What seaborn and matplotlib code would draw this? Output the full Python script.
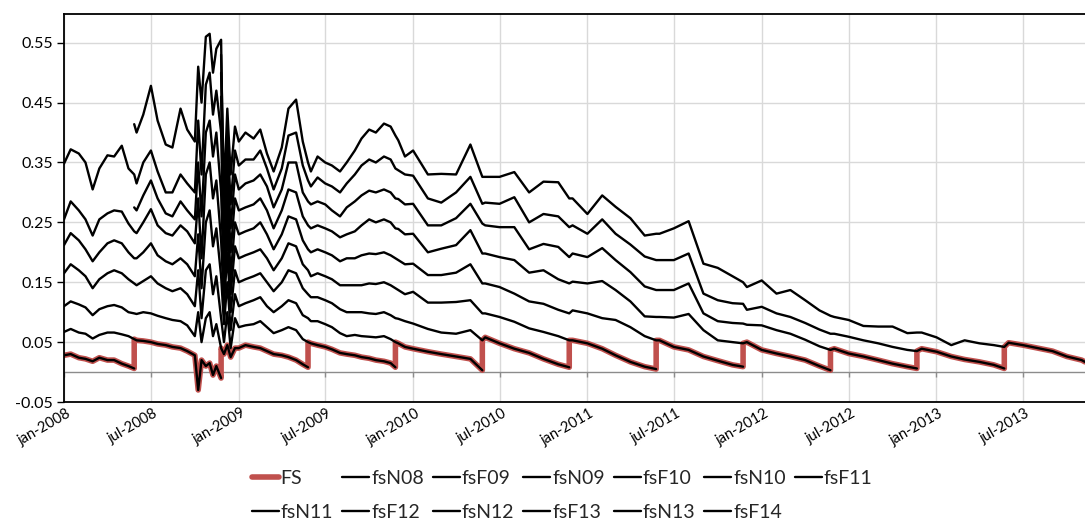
import pandas as pd
import numpy as np
import matplotlib
matplotlib.use("Agg")
import matplotlib.pyplot as plt
import matplotlib.dates as mdates
import matplotlib.transforms as mtransforms
from matplotlib.ticker import FuncFormatter
import seaborn as sns

# ---------------- data ----------------
contracts = ["fsN08", "fsF09", "fsN09", "fsF10", "fsN10", "fsF11",
             "fsN11", "fsF12", "fsN12", "fsF13", "fsN13", "fsF14"]
starts = ["2008-01-01", "2008-01-01", "2008-01-01", "2008-01-01", "2008-01-01", "2008-01-01",
          "2008-05-27", "2008-01-01", "2008-05-27", "2008-11-25", "2008-11-25", "2008-11-25"]
expiries = ["2008-05-27", "2008-11-25", "2009-05-26", "2009-11-25", "2010-05-26", "2010-11-24",
            "2011-05-25", "2011-11-23", "2012-05-24", "2012-11-21", "2013-05-23", "2013-11-08"]
extra_dates = ["2008-10-08", "2008-10-24", "2008-11-08", "2008-12-08", "2008-12-24"]

fsN08 = [0.028, 0.030, 0.024, 0.022, 0.018, 0.024, 0.020, 0.020, 0.014, 0.010, 0.006]
fsF09 = [0.067, 0.072, 0.066, 0.064, 0.056, 0.062, 0.066, 0.066, 0.063, 0.060, 0.055,
         0.053, 0.052, 0.050, 0.047, 0.045, 0.042, 0.040, 0.035, 0.028,
         -0.030, 0.020, 0.010, 0.015, -0.005, 0.010, -0.010]
fsN09 = [0.110, 0.118, 0.113, 0.108, 0.095, 0.105, 0.110, 0.112, 0.108, 0.100, 0.098,
         0.097, 0.100, 0.098, 0.094, 0.090, 0.087, 0.085, 0.078, 0.060,
         0.100, 0.050, 0.090, 0.100, 0.060, 0.080, 0.040,
         0.030, 0.045, 0.025, 0.040,
         0.040, 0.045, 0.042, 0.040, 0.035, 0.030, 0.028, 0.025, 0.020, 0.013, 0.008]
fsF10 = [0.165, 0.180, 0.170, 0.160, 0.140, 0.155, 0.165, 0.170, 0.165, 0.155, 0.148,
         0.145, 0.152, 0.160, 0.148, 0.140, 0.135, 0.140, 0.130, 0.110,
         0.170, 0.090, 0.170, 0.180, 0.130, 0.160, 0.090,
         0.050, 0.100, 0.040, 0.090,
         0.075, 0.078, 0.080, 0.085, 0.075, 0.065, 0.070, 0.075, 0.070, 0.055, 0.050,
         0.048, 0.045, 0.042, 0.038, 0.032, 0.030, 0.028, 0.025, 0.023, 0.020, 0.018, 0.015, 0.008]
fsN10 = [0.212, 0.232, 0.220, 0.205, 0.185, 0.200, 0.215, 0.220, 0.215, 0.200, 0.190,
         0.190, 0.200, 0.215, 0.195, 0.185, 0.180, 0.190, 0.180, 0.160,
         0.230, 0.140, 0.250, 0.270, 0.210, 0.240, 0.160,
         0.080, 0.150, 0.070, 0.130,
         0.110, 0.115, 0.120, 0.125, 0.110, 0.100, 0.110, 0.120, 0.115, 0.095, 0.090,
         0.085, 0.085, 0.080, 0.075, 0.065, 0.060, 0.062, 0.060, 0.059, 0.058, 0.060, 0.055, 0.050,
         0.048, 0.042,
         0.039, 0.034, 0.030, 0.026, 0.022, 0.003]
fsF11 = [0.255, 0.285, 0.270, 0.255, 0.228, 0.255, 0.265, 0.270, 0.268, 0.248, 0.235,
         0.232, 0.250, 0.272, 0.245, 0.232, 0.228, 0.245, 0.235, 0.215,
         0.290, 0.190, 0.330, 0.350, 0.290, 0.320, 0.220,
         0.110, 0.200, 0.100, 0.170,
         0.150, 0.155, 0.160, 0.165, 0.150, 0.135, 0.150, 0.170, 0.165, 0.140, 0.130,
         0.125, 0.125, 0.120, 0.115, 0.105, 0.100, 0.100, 0.100, 0.098, 0.097, 0.100, 0.095, 0.090,
         0.089, 0.085,
         0.081, 0.072, 0.066, 0.064, 0.070, 0.053, 0.058, 0.048, 0.039, 0.032, 0.022, 0.013, 0.008]
fsN11 = [0.275,
         0.270, 0.295, 0.320, 0.290, 0.265, 0.260, 0.285, 0.270, 0.255,
         0.350, 0.260, 0.400, 0.420, 0.360, 0.400, 0.300,
         0.140, 0.240, 0.130, 0.210,
         0.190, 0.195, 0.200, 0.205, 0.190, 0.170, 0.190, 0.215, 0.210, 0.180, 0.170,
         0.160, 0.165, 0.160, 0.155, 0.145, 0.145, 0.145, 0.145, 0.148, 0.147, 0.150, 0.145, 0.140,
         0.137, 0.130,
         0.134, 0.116, 0.116, 0.117, 0.120, 0.098, 0.098, 0.092, 0.084, 0.073, 0.067, 0.060, 0.053, 0.053,
         0.048, 0.039, 0.028, 0.017, 0.009, 0.005]
fsF12 = [0.348, 0.372, 0.365, 0.350, 0.305, 0.340, 0.362, 0.360, 0.378, 0.340, 0.330,
         0.315, 0.350, 0.370, 0.335, 0.300, 0.300, 0.330, 0.315, 0.300,
         0.420, 0.330, 0.480, 0.500, 0.430, 0.470, 0.400,
         0.170, 0.280, 0.160, 0.250,
         0.230, 0.235, 0.240, 0.250, 0.230, 0.205, 0.230, 0.260, 0.255, 0.220, 0.205,
         0.200, 0.205, 0.200, 0.195, 0.185, 0.190, 0.190, 0.195, 0.198, 0.197, 0.200, 0.195, 0.190,
         0.187, 0.180,
         0.181, 0.162, 0.162, 0.166, 0.180, 0.148, 0.148, 0.142, 0.131, 0.118, 0.114, 0.104, 0.098, 0.103,
         0.098, 0.090, 0.087, 0.075, 0.060, 0.053, 0.053, 0.042, 0.037, 0.026, 0.019, 0.012, 0.009]
fsN12 = [0.414,
         0.400, 0.430, 0.478, 0.420, 0.380, 0.375, 0.440, 0.405, 0.385,
         0.510, 0.450, 0.560, 0.565, 0.500, 0.540, 0.555,
         0.200, 0.320, 0.200, 0.290,
         0.270, 0.275, 0.280, 0.290, 0.270, 0.240, 0.270, 0.305, 0.300, 0.260, 0.245,
         0.240, 0.245, 0.240, 0.235, 0.225, 0.230, 0.235, 0.245, 0.255, 0.250, 0.255, 0.250, 0.240,
         0.239, 0.230,
         0.231, 0.200, 0.206, 0.212, 0.237, 0.198, 0.198, 0.192, 0.187, 0.166, 0.170, 0.155, 0.148, 0.151,
         0.148, 0.152, 0.137, 0.118, 0.093, 0.092, 0.092, 0.091, 0.097, 0.070, 0.053, 0.050, 0.048, 0.050,
         0.037, 0.031, 0.026, 0.020, 0.010, 0.003]
fsF13 = [0.460, 0.230, 0.360, 0.240, 0.330,
         0.305, 0.315, 0.320, 0.330, 0.310, 0.275, 0.305, 0.350, 0.350, 0.300, 0.285,
         0.280, 0.285, 0.280, 0.270, 0.260, 0.275, 0.285, 0.295, 0.303, 0.300, 0.305, 0.300, 0.290,
         0.289, 0.280,
         0.281, 0.245, 0.245, 0.257, 0.281, 0.248, 0.245, 0.242, 0.242, 0.205, 0.214, 0.209, 0.192, 0.198,
         0.192, 0.207, 0.187, 0.167, 0.143, 0.137, 0.137, 0.137, 0.148, 0.098, 0.085, 0.082, 0.081, 0.079,
         0.078, 0.070, 0.064, 0.054, 0.043, 0.037, 0.039, 0.031, 0.026, 0.020, 0.014, 0.009, 0.006]
fsN13 = [0.500, 0.260, 0.400, 0.280, 0.370,
         0.345, 0.355, 0.355, 0.370, 0.340, 0.305, 0.340, 0.395, 0.400, 0.345, 0.320,
         0.310, 0.325, 0.315, 0.310, 0.300, 0.315, 0.330, 0.345, 0.355, 0.350, 0.360, 0.355, 0.340,
         0.337, 0.330,
         0.328, 0.290, 0.283, 0.300, 0.326, 0.281, 0.283, 0.281, 0.292, 0.250, 0.264, 0.260, 0.242, 0.245,
         0.231, 0.255, 0.231, 0.213, 0.193, 0.187, 0.187, 0.187, 0.198, 0.131, 0.120, 0.115, 0.114, 0.104,
         0.109, 0.098, 0.092, 0.082, 0.071, 0.064, 0.064, 0.059, 0.053, 0.048, 0.042, 0.037, 0.035, 0.039,
         0.034, 0.026, 0.021, 0.017, 0.012, 0.006]
fsF14 = [0.530, 0.300, 0.440, 0.330, 0.410,
         0.385, 0.400, 0.390, 0.405, 0.365, 0.335, 0.375, 0.440, 0.455, 0.385, 0.350,
         0.335, 0.360, 0.350, 0.345, 0.335, 0.350, 0.370, 0.390, 0.405, 0.400, 0.415, 0.410, 0.395,
         0.387, 0.360,
         0.370, 0.330, 0.331, 0.330, 0.380, 0.326, 0.326, 0.326, 0.334, 0.300, 0.318, 0.317, 0.290, 0.290,
         0.264, 0.295, 0.276, 0.257, 0.228, 0.231, 0.231, 0.240, 0.252, 0.181, 0.174, 0.160, 0.150, 0.142,
         0.153, 0.131, 0.137, 0.120, 0.103, 0.094, 0.092, 0.087, 0.077, 0.076, 0.076, 0.065, 0.066, 0.066,
         0.058, 0.045, 0.053, 0.048, 0.045, 0.042, 0.049, 0.045, 0.040, 0.035, 0.026, 0.020, 0.017]
series_values = [fsN08, fsF09, fsN09, fsF10, fsN10, fsF11,
                 fsN11, fsF12, fsN12, fsF13, fsN13, fsF14]

month_names = {1: "jan", 7: "jul"}
y_ticks = [-0.05, 0.05, 0.15, 0.25, 0.35, 0.45, 0.55]
x_start, x_end = "2008-01-01", "2013-11-08"

# ---------------- sampling grid of the readings ----------------
grid = set(pd.date_range("2008-01-01", "2009-12-16", freq="SMS"))
grid |= set(pd.date_range("2010-01-01", "2013-11-01", freq="MS"))
grid |= set(pd.to_datetime(extra_dates)) | set(pd.to_datetime(expiries))
grid = sorted(grid)

series_dates = {}
for name, s, e, vals in zip(contracts, starts, expiries, series_values):
    s, e = pd.Timestamp(s), pd.Timestamp(e)
    d = [g for g in grid if s <= g <= e]
    if len(d) != len(vals):
        raise ValueError(f"{name}: {len(d)} dates vs {len(vals)} values")
    series_dates[name] = d

# front spread: nearest contract until its expiry
fs_dates, fs_vals = [], []
prev = pd.Timestamp(starts[0])
for name, e, vals in zip(contracts, expiries, series_values):
    e = pd.Timestamp(e)
    for d, v in zip(series_dates[name], vals):
        if prev <= d <= e:
            fs_dates.append(d)
            fs_vals.append(v)
    prev = e

# ---------------- plot ----------------
sns.set_theme(style="white")
plt.rcParams["font.family"] = ["Lato", "DejaVu Sans"]

W, H = 1085, 521
fig = plt.figure(figsize=(W / 100, H / 100), dpi=100)
ax = fig.add_axes([64 / W, (H - 402) / H, (W - 64) / W, 388 / H])

sns.lineplot(x=fs_dates, y=fs_vals, ax=ax, color="#C0504D", linewidth=4.0,
             estimator=None, sort=False, label="FS", zorder=2)
for name, vals in zip(contracts, series_values):
    sns.lineplot(x=series_dates[name], y=vals, ax=ax, color="black", linewidth=1.7,
                 estimator=None, sort=False, label=name, zorder=3)

ax.set_xlim(pd.Timestamp(x_start), pd.Timestamp(x_end))
ax.set_ylim(-0.05, 0.598)
ax.set_yticks(y_ticks)
ax.yaxis.set_major_formatter(FuncFormatter(lambda v, p: f"{v:.2f}"))
ax.xaxis.set_major_locator(mdates.MonthLocator(bymonth=[1, 7]))
ax.xaxis.set_major_formatter(FuncFormatter(
    lambda v, p: f"{month_names[mdates.num2date(v).month]}-{mdates.num2date(v).year}"))

ax.set_axisbelow(True)
ax.grid(True, color="#D9D9D9", linewidth=1.0)
ax.axhline(0, color="#8C8C8C", linewidth=1.0, zorder=1.5)
tick_dates = pd.date_range(x_start, x_end, freq="6MS")
ax.vlines(tick_dates, -0.009, 0, color="#8C8C8C", linewidth=1.0, zorder=1.5)

for side in ["left", "bottom", "top"]:
    ax.spines[side].set_color("black")
    ax.spines[side].set_linewidth(1.3)
ax.spines["right"].set_visible(False)

ax.tick_params(axis="y", which="major", left=True, length=5, width=1, color="black",
               labelsize=11.5, pad=3, labelcolor="black")
ax.tick_params(axis="x", which="major", bottom=False, length=0, labelsize=10.5, pad=3,
               labelcolor="black")
offset = mtransforms.ScaledTranslation(2 / 100, 0, fig.dpi_scale_trans)
for lbl in ax.get_xticklabels():
    lbl.set_rotation(30)
    lbl.set_ha("right")
    lbl.set_rotation_mode("anchor")
    lbl.set_transform(lbl.get_transform() + offset)
ax.set_xlabel("")
ax.set_ylabel("")

handles, labels = ax.get_legend_handles_labels()
ax.get_legend().remove()
row1 = list(range(0, 7))
row2 = list(range(7, 13))
order = []
for i in range(7):
    order.append(row1[i])
    if i < len(row2):
        order.append(row2[i])
fig.legend([handles[i] for i in order], [labels[i] for i in order],
           loc="center", bbox_to_anchor=(0.518, 0.049), ncol=7, frameon=False,
           fontsize=14, handlelength=1.4, handletextpad=0.1, columnspacing=0.45,
           labelspacing=0.85, borderaxespad=0)

fig.savefig("out.png", dpi=100)
